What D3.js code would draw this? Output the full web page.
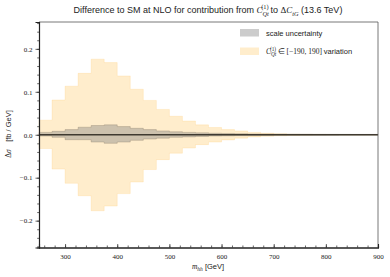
<!DOCTYPE html>
<html>
<head>
<meta charset="utf-8">
<script src="https://cdn.jsdelivr.net/npm/d3@7"></script>
<style>
  body { margin: 0; background: #fff; }
  svg text { font-family: "Liberation Serif", serif; fill: #222; }
  .sans { font-family: "Liberation Sans", "DejaVu Sans", sans-serif; }
</style>
</head>
<body>
<div id="chart"></div>
<script>
// bin edges: 25 GeV bins from 250 to 900
const binStarts = d3.range(250, 900, 25);
const binEnd = 900;

// C_Qt^(1) in [-190, 190] variation band
const varUp = [0.034, 0.081, 0.113, 0.143, 0.176, 0.168, 0.137, 0.106, 0.080, 0.059, 0.043, 0.032, 0.023,
               0.017, 0.012, 0.009, 0.0055, 0.0035, 0.0023, 0.0015, 0.001, 0.0008, 0.0006, 0.0005, 0.0004, 0.0003];
const varLo = [-0.032, -0.080, -0.113, -0.142, -0.177, -0.166, -0.137, -0.110, -0.081, -0.058, -0.043, -0.031, -0.023,
               -0.017, -0.012, -0.008, -0.005, -0.0035, -0.0023, -0.0015, -0.001, -0.0008, -0.0006, -0.0005, -0.0004, -0.0003];

// scale uncertainty band
const scaleUp = [0.0055, 0.008, 0.012, 0.0175, 0.0215, 0.023, 0.019, 0.015, 0.012, 0.009, 0.007, 0.0055, 0.0045,
                 0.0035, 0.003, 0.0025, 0.002, 0.0018, 0.0015, 0.0013, 0.0012, 0.001, 0.001, 0.0009, 0.0008, 0.0008];
const scaleLo = [-0.003, -0.006, -0.0115, -0.0116, -0.017, -0.020, -0.017, -0.013, -0.010, -0.008, -0.006, -0.005, -0.004,
                 -0.003, -0.0025, -0.002, -0.0018, -0.0015, -0.0013, -0.0012, -0.001, -0.001, -0.0009, -0.0008, -0.0008, -0.0007];

// central value (difference to SM)
const central = binStarts.map(() => 0);

const xMajor = [300, 400, 500, 600, 700, 800, 900];
const yMajor = [-0.2, -0.1, 0.0, 0.1, 0.2];

const margin = {top: 22, right: 12, bottom: 29.5, left: 39},
    width = 390 - margin.left - margin.right,
    height = 277 - margin.top - margin.bottom;

const svg = d3.select("#chart").append("svg")
    .attr("width", 390)
    .attr("height", 277);
const g = svg.append("g")
    .attr("transform", "translate(" + margin.left + "," + margin.top + ")");

const x = d3.scaleLinear().domain([250, 900]).range([0, width]);
const y = d3.scaleLinear().domain([-0.2625, 0.2625]).range([height, 0]);

// step points: each bin start plus final edge repeating last value
function steps(lo, hi) {
  const pts = binStarts.map((b, i) => ({x: b, lo: lo[i], hi: hi[i]}));
  pts.push({x: binEnd, lo: lo[lo.length - 1], hi: hi[hi.length - 1]});
  return pts;
}

const area = d3.area()
    .curve(d3.curveStepAfter)
    .x(d => x(d.x))
    .y0(d => y(d.lo))
    .y1(d => y(d.hi));

g.append("path")
    .datum(steps(varLo, varUp))
    .attr("d", area)
    .attr("fill", "rgb(255,165,0)")
    .attr("fill-opacity", 0.2)
    .attr("stroke", "rgb(255,165,0)")
    .attr("stroke-opacity", 0.12)
    .attr("stroke-width", 1);

g.append("path")
    .datum(steps(scaleLo, scaleUp))
    .attr("d", area)
    .attr("fill", "rgb(128,128,128)")
    .attr("fill-opacity", 0.4)
    .attr("stroke", "rgb(110,100,80)")
    .attr("stroke-opacity", 0.25)
    .attr("stroke-width", 1);

const line = d3.line()
    .curve(d3.curveStepAfter)
    .x(d => x(d.x))
    .y(d => y(d.v));
const cpts = binStarts.map((b, i) => ({x: b, v: central[i]}));
cpts.push({x: binEnd, v: central[central.length - 1]});
g.append("path")
    .datum(cpts)
    .attr("d", line)
    .attr("fill", "none")
    .attr("stroke", "#3f3a30")
    .attr("stroke-width", 1.4);

// top/right spines
g.append("line").attr("x1", 0).attr("x2", width).attr("y1", 0).attr("y2", 0)
    .attr("stroke", "#555").attr("stroke-width", 0.8);
g.append("line").attr("x1", width).attr("x2", width).attr("y1", 0).attr("y2", height)
    .attr("stroke", "#555").attr("stroke-width", 0.8);

// x axis, ticks inward
const xAxis = g.append("g").attr("transform", "translate(0," + height + ")");
xAxis.call(d3.axisBottom(x).tickValues(d3.range(260, 901, 20)).tickSize(-2).tickFormat(""));
xAxis.append("g").call(d3.axisBottom(x).tickValues(xMajor).tickSize(-3.5).tickPadding(7).tickFormat(d3.format("d")));
xAxis.selectAll(".domain").attr("stroke", "#222").attr("stroke-width", 1.1);
xAxis.selectAll("line").attr("stroke", "#222").attr("stroke-width", 0.7);
xAxis.selectAll("text").attr("font-family", "Liberation Serif").attr("font-size", 7).attr("fill", "#222");

// y axis, ticks outward
const yAxis = g.append("g");
yAxis.call(d3.axisLeft(y).tickValues(d3.range(-0.26, 0.261, 0.02)).tickSize(1.8).tickFormat(""));
yAxis.append("g").call(d3.axisLeft(y).tickValues(yMajor).tickSize(3.5).tickPadding(3)
    .tickFormat(d => d3.format(".1f")(d).replace("-", "\u2212")));
yAxis.selectAll(".domain").attr("stroke", "#222").attr("stroke-width", 1.1);
yAxis.selectAll("line").attr("stroke", "#222").attr("stroke-width", 0.7);
yAxis.selectAll("text").attr("font-family", "Liberation Serif").attr("font-size", 7).attr("fill", "#222");

// helper writing C_{Qt}^{(1)} into a text selection
function cqt(t, fs) {
  t.append("tspan").attr("font-style", "italic").text("C");
  t.append("tspan").attr("font-style", "italic").attr("font-size", fs * 0.7)
      .attr("dy", fs * 0.3).text("Qt");
  t.append("tspan").attr("font-size", fs * 0.7).attr("dx", -fs * 0.85)
      .attr("dy", -fs * 0.75).text("(1)");
  t.append("tspan").attr("font-size", fs).attr("dy", fs * 0.45).text("\u2009");
}

// title
const fsT = 9;
const title = svg.append("text").attr("x", 208).attr("y", 13).attr("text-anchor", "middle")
    .attr("font-size", fsT);
title.append("tspan").attr("class", "sans").text("Difference to SM at NLO for contribution from ");
cqt(title, fsT);
title.append("tspan").attr("class", "sans").text("to ");
title.append("tspan").text("\u0394");
title.append("tspan").attr("font-style", "italic").text("C");
title.append("tspan").attr("font-style", "italic").attr("font-size", fsT * 0.7).attr("dy", fsT * 0.3).text("tG");
title.append("tspan").attr("class", "sans").attr("dy", -fsT * 0.3).text(" (13.6 TeV)");

// axis labels
const xl = svg.append("text").attr("x", 208).attr("y", 269).attr("text-anchor", "middle").attr("font-size", 7.5);
xl.append("tspan").attr("font-style", "italic").text("m");
xl.append("tspan").attr("font-style", "italic").attr("font-size", 5.5).attr("dy", 1.5).text("hh");
xl.append("tspan").attr("class", "sans").attr("dy", -1.5).text(" [GeV]");

const yl = svg.append("text").attr("transform", "translate(11,134) rotate(-90)")
    .attr("text-anchor", "middle").attr("font-size", 7.5);
yl.append("tspan").text("\u0394");
yl.append("tspan").attr("font-style", "italic").text("\u03c3");
yl.append("tspan").attr("class", "sans").text("\u2003[fb / GeV]");

// legend
const leg = svg.append("g").attr("transform", "translate(240,29)");
leg.append("rect").attr("x", 0).attr("y", 0).attr("width", 19).attr("height", 7.5)
    .attr("fill", "rgb(128,128,128)").attr("fill-opacity", 0.4);
leg.append("text").attr("class", "sans").attr("x", 26).attr("y", 6.5).attr("font-size", 7.5)
    .text("scale uncertainty");
leg.append("rect").attr("x", 0).attr("y", 18.5).attr("width", 19).attr("height", 7.5)
    .attr("fill", "rgb(255,165,0)").attr("fill-opacity", 0.2);
const lt = leg.append("text").attr("x", 26).attr("y", 25).attr("font-size", 7.5);
cqt(lt, 7.5);
lt.append("tspan").text("\u2208 [\u2212190, 190] ");
lt.append("tspan").attr("class", "sans").text("variation");
</script>
</body>
</html>
